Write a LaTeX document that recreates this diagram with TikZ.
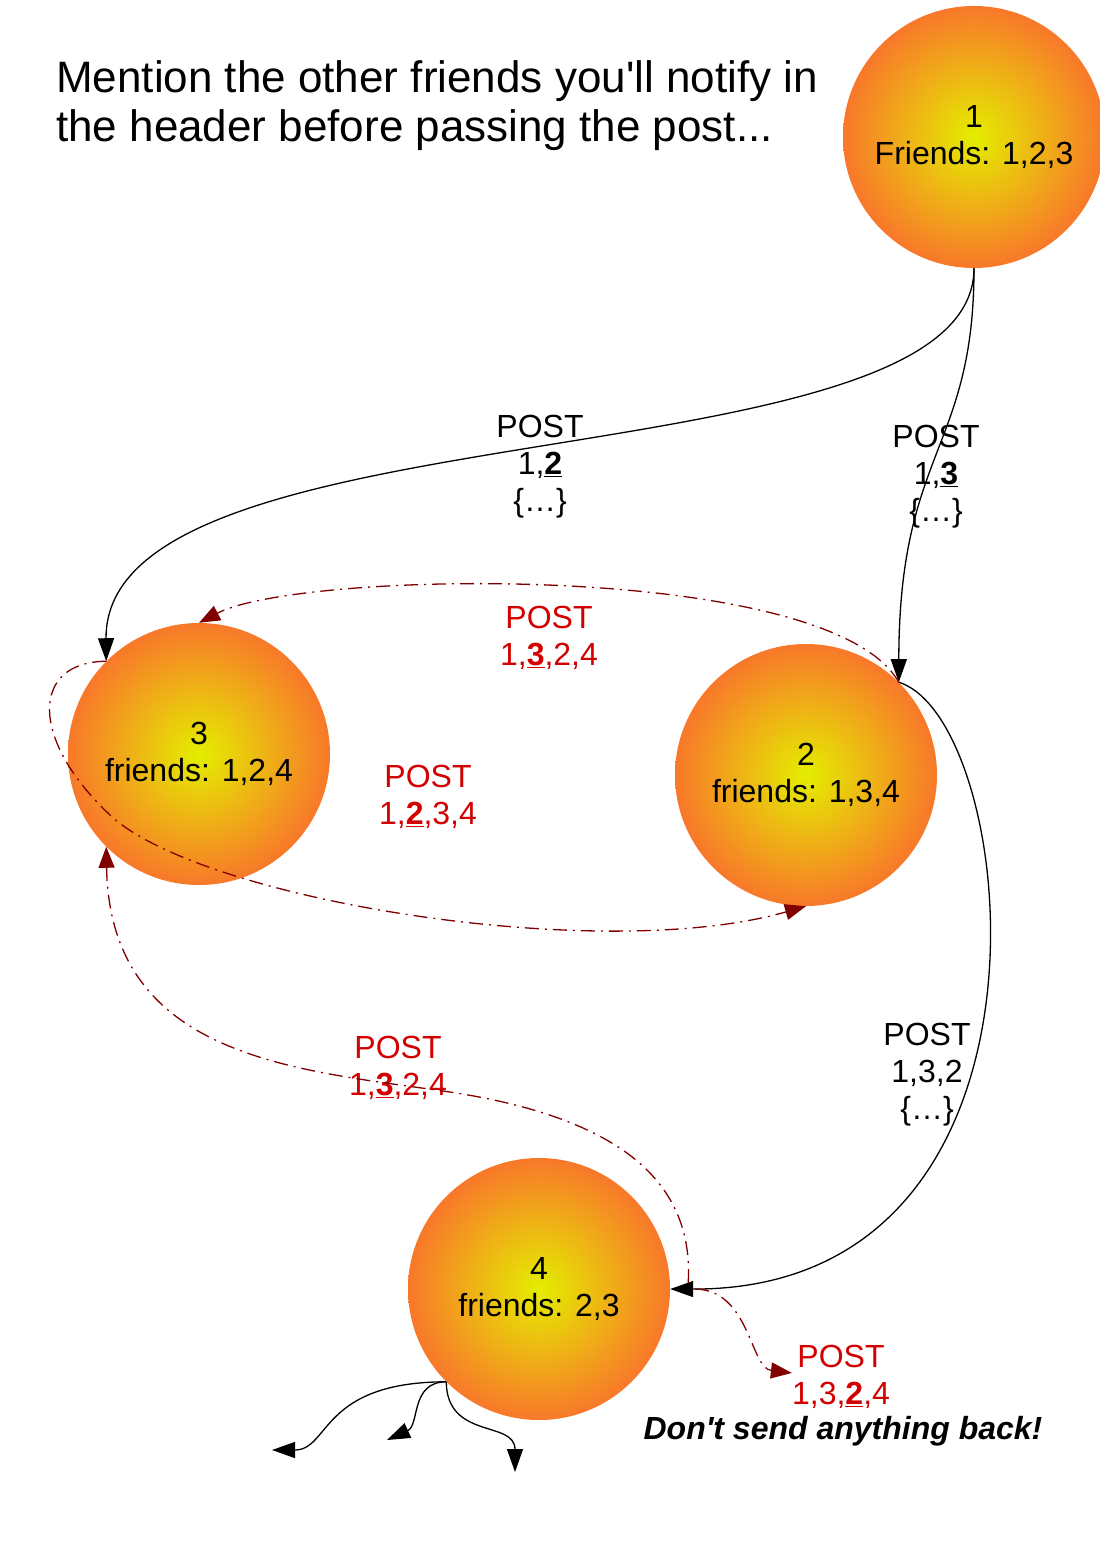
\documentclass[tikz,border=0pt]{standalone}
\usepackage{fontspec}
\setmainfont{Liberation Sans}
\usetikzlibrary{arrows.meta}
\definecolor{postred}{RGB}{210,0,0}
\definecolor{darkred}{RGB}{128,0,0}
\definecolor{ballin}{RGB}{228,238,0}
\definecolor{ballout}{RGB}{248,120,42}
\newcommand{\hlnum}[1]{\underline{\textbf{#1}}}
\begin{document}
\begin{tikzpicture}[x=1pt,y=-1pt,
  ball/.style={circle, minimum size=262pt, inner sep=0pt, inner color=ballin, outer color=ballout, align=center, font=\fontsize{32}{37}\selectfont},
  lbl/.style={align=center, font=\fontsize{32}{37}\selectfont, inner sep=0pt, anchor=north},
  redlbl/.style={lbl, text=postred},
  blk/.style={draw=black, line width=1.3pt, -{Triangle[length=23pt,width=16pt]}},
  rdash/.style={draw=darkred, line width=1.3pt, dash pattern=on 14pt off 6pt on 2pt off 6pt, -{Triangle[length=21pt,width=16pt]}},
]
\useasboundingbox (0,0) rectangle (1100,1555);

\node[anchor=north west, font=\fontsize{44}{49}\selectfont, align=left, inner sep=0pt] (title) at (56,60)
  {Mention the other friends you\textquotesingle ll notify in\\the header before passing the post...};

\node[ball] (n1) at (974,137) {1\\Friends: 1,2,3};
\node[ball] (n3) at (199,754) {3\\friends: 1,2,4};
\node[ball] (n2) at (806,775) {2\\friends: 1,3,4};
\node[ball] (n4) at (539,1289) {4\\friends: 2,3};

\node[lbl] (l12) at (540,415) {POST\\1,\hlnum{2}\\\{…\}};
\node[lbl] (l13) at (936,425) {POST\\1,\hlnum{3}\\\{…\}};
\node[lbl] (l24) at (927,1023) {POST\\1,3,2\\\{…\}};
\node[redlbl] (r1) at (549,606) {POST\\1,\hlnum{3},2,4};
\node[redlbl] (r2) at (428,765) {POST\\1,\hlnum{2},3,4};
\node[redlbl] (r3) at (398,1036) {POST\\1,\hlnum{3},2,4};
\node[redlbl] (r4) at (841,1345) {POST\\1,3,\hlnum{2},4};
\node[lbl] (back) at (843,1416) {\textbf{\textit{Don\textquotesingle t send anything back!}}};

\coordinate (e1) at (272,1450);
\coordinate (e2) at (387,1440);
\coordinate (e3) at (515,1472);

\draw[blk] (n1.south) .. controls (974,488) and (104,400) .. (n3.135);
\draw[blk] (n1.south) .. controls (974,450) and (899,450) .. (n2.45);
\draw[blk] (n2.45) .. controls (1020,720) and (1080,1290) .. (n4.east);

\draw[rdash] (n2.45) .. controls (830,560) and (300,570) .. (n3.north);
\draw[rdash] (n3.135) .. controls (30,662) and (30,740) .. (110,815) .. controls (200,900) and (600,965) .. (n2.south);
\draw[rdash] ([shift={(18,-6)}]n4.east) .. controls (695,1170) and (600,1115) .. (450,1092) .. controls (300,1070) and (110,1060) .. (n3.225);
\draw[rdash] ([shift={(25,0)}]n4.east) .. controls (750,1290) and (750,1368) .. ([shift={(0,-4)}]r4.west);

\draw[blk] (n4.225) .. controls (320,1382) and (330,1450) .. (e1);
\draw[blk] (n4.225) .. controls (410,1382) and (420,1425) .. (e2);
\draw[blk] (n4.225) .. controls (447,1440) and (515,1420) .. (e3);
\end{tikzpicture}
\end{document}
